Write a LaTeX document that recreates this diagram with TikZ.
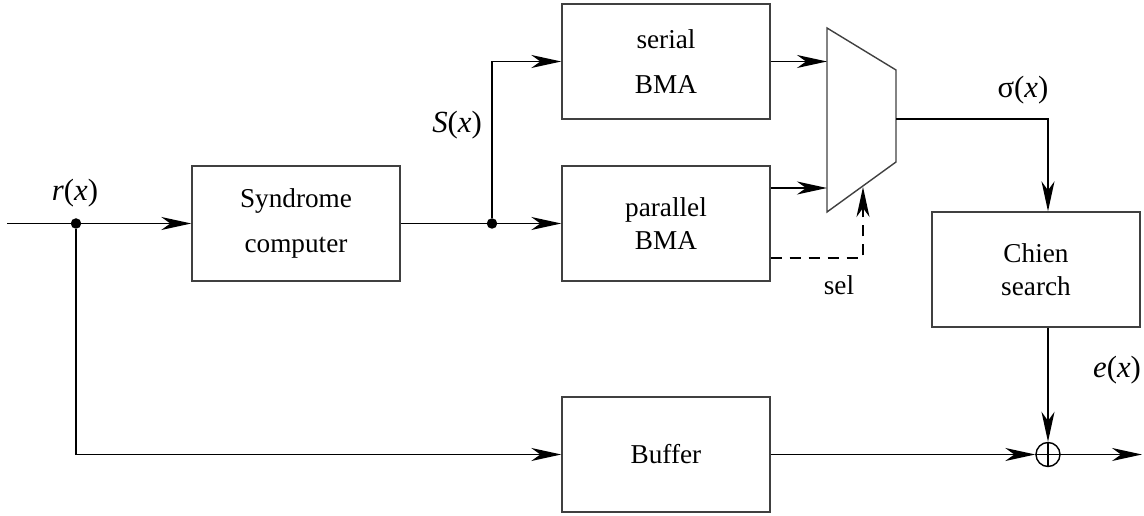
\documentclass[tikz,border=0pt]{standalone}
\usepackage{fontspec}
\setmainfont{LiberationSerif}[Extension=.ttf, UprightFont=*-Regular, ItalicFont=*-Italic, BoldFont=*-Bold, BoldItalicFont=*-BoldItalic]
\usetikzlibrary{arrows.meta}

\tikzset{
  blk/.style={draw=black!75, line width=0.8pt, minimum width=4.16cm, minimum height=2.3cm,
    inner sep=0pt, align=center, font=\fontsize{15.5}{18.6}\selectfont},
  sig/.style={line width=1pt, -{Stealth[length=6mm,width=2.6mm,inset=1.8mm]}},
  lbl/.style={font=\fontsize{17.5}{21}\selectfont},
  dot/.style={circle, fill, inner sep=0pt, minimum size=0.21cm},
}

\begin{document}
\begin{tikzpicture}[x=0.02cm,y=-0.02cm]
	\useasboundingbox (0,0) rectangle (1144,516);
	
	% blocks
	\node[blk] (syn) at (296,223.5) {Syndrome\\[0.24cm]computer};
	\node[blk] (ser) at (666,61.5) {serial\\[0.24cm]BMA};
	\node[blk] (par) at (666,223.5) {parallel\\BMA};
	\node[blk] (buf) at (666,454.5) {Buffer};
	\node[blk] (chs) at (1036,269.5) {Chien\\search};
	
	% multiplexer
	\draw[draw=black!75, line width=0.8pt] (827,28) -- (896,70) -- (896,162) -- (827,212) -- cycle;
	\coordinate (mxin) at (827,120);
	\coordinate (mxout) at (896,119);
	\coordinate (mxsel) at (863,187);
	
	\coordinate (in) at (7,223.5);
	\coordinate (out) at (1142,454.5);
	\coordinate (pa) at ([yshift=0.71cm]par.east);
	\coordinate (ps) at ([yshift=-0.69cm]par.east);
	
	\node[dot] (rdot) at (76,223.5) {};
	\node[dot] (sdot) at (492,223.5) {};
	\node[circle, draw, line width=0.8pt, minimum size=0.48cm, inner sep=0pt] (xor) at (1048,454.5) {};
	\draw[line width=0.8pt] (xor.north) -- (xor.south) (xor.west) -- (xor.east);
	
	% connectors
	\draw[sig] (in) -- (syn.west);
	\draw[sig] (syn.east) -- (par.west);
	\draw[sig] (sdot) |- (ser.west);
	\draw[sig] (rdot) |- (buf.west);
	\draw[sig] (ser.east) -- (ser.east -| mxin);
	\draw[sig] (pa) -- (pa -| mxin);
	\draw[sig, dash pattern=on 0.22cm off 0.16cm] (ps) -| (mxsel);
	\draw[sig] (mxout) -| (chs.north -| xor);
	\draw[sig] (chs.south -| xor) -- (xor.north);
	\draw[sig] (buf.east) -- (xor.west);
	\draw[sig] (xor.east) -- (out);
	
	% labels
	\node[lbl] (rlbl) at (75,193) {\textit{r}(\textit{x})};
	\node[lbl] (slbl) at (457,125) {\textit{S}(\textit{x})};
	\node[lbl] (siglbl) at (1023,90) {σ(\textit{x})};
	\node[lbl] (elbl) at (1117,370) {\textit{e}(\textit{x})};
	\node[font=\fontsize{15.5}{18.6}\selectfont] (sel) at (839,285) {sel};
\end{tikzpicture}
\end{document}
